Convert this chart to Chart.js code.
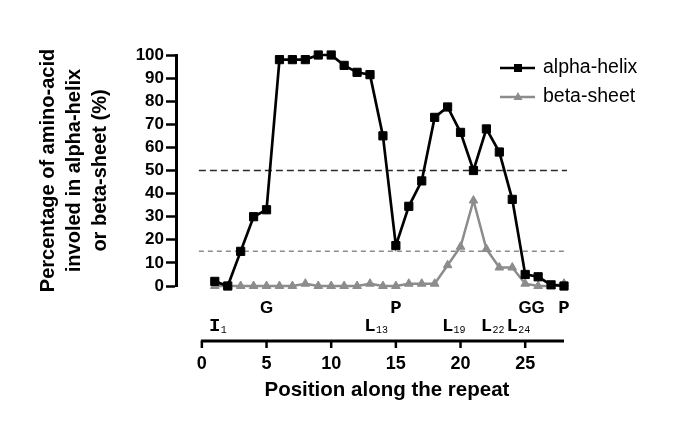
<!DOCTYPE html>
<html>
<head>
<meta charset="utf-8">
<script src="https://cdn.jsdelivr.net/npm/chart.js@4.4.1/dist/chart.umd.min.js"></script>
<style>
  html, body { margin: 0; padding: 0; background: #fff; }
</style>
</head>
<body>
<canvas id="lineChart" width="685" height="428"></canvas>
<script>
// data
var positions  = [1, 2, 3, 4, 5, 6, 7, 8, 9, 10, 11, 12, 13, 14, 15, 16, 17, 18, 19, 20, 21, 22, 23, 24, 25, 26, 27, 28];
var alphaHelix = [2, 0, 15, 30, 33, 98, 98, 98, 100, 100, 95.5, 92.5, 91.5, 65, 17.5, 34.5, 45.5, 73, 77.5, 66.5, 50, 68, 58, 37.5, 5, 4, 0.5, 0];
var betaSheet  = [0, 0, 0, 0, 0, 0, 0, 1, 0, 0, 0, 0, 1, 0, 0, 1, 1, 1, 9, 17, 37, 16, 8, 8, 1, 0, 0, 1];
var xTicks = [0, 5, 10, 15, 20, 25];
var yTicks = [0, 10, 20, 30, 40, 50, 60, 70, 80, 90, 100];
var cutoffs = [50, 15];
// residues marked under the curves
var topResidues = ['G', 'P', 'G', 'G', 'P'];
var topResiduePos = [5, 15, 25, 26, 28];
var bottomResidues = ['I', 'L', 'L', 'L', 'L'];
var bottomResiduePos = [1, 13, 19, 22, 24];

var SANS = "'Liberation Sans', Arial, sans-serif";
var MONO = "'Liberation Mono', 'Courier New', monospace";

function toPoints(vals) {
  return positions.map(function (p, i) { return { x: p, y: vals[i] }; });
}

var extras = {
  id: 'extras',
  beforeDatasetsDraw: function (chart) {
    var ctx = chart.ctx, xs = chart.scales.x, ys = chart.scales.y;
    var colors = ['#2b2b2b', '#8c8c8c'];
    var dashes = [[7, 4], [5, 4]];
    ctx.save();
    cutoffs.forEach(function (c, i) {
      var y = ys.getPixelForValue(c);
      ctx.strokeStyle = colors[i];
      ctx.lineWidth = 1.5;
      ctx.setLineDash(dashes[i]);
      ctx.beginPath();
      ctx.moveTo(xs.getPixelForValue(0) - 3, y);
      ctx.lineTo(xs.getPixelForValue(28) + 3, y);
      ctx.stroke();
    });
    ctx.restore();
  },
  afterDraw: function (chart) {
    var ctx = chart.ctx, xs = chart.scales.x;
    var axisY = 341;
    var x0 = xs.getPixelForValue(0), x28 = xs.getPixelForValue(28);
    ctx.save();
    // detached x axis
    ctx.strokeStyle = '#000';
    ctx.lineWidth = 3;
    ctx.beginPath();
    ctx.moveTo(x0 - 1, axisY);
    ctx.lineTo(x28, axisY);
    ctx.stroke();
    ctx.lineWidth = 2.5;
    xTicks.forEach(function (t) {
      var x = xs.getPixelForValue(t);
      ctx.beginPath();
      ctx.moveTo(x, axisY);
      ctx.lineTo(x, axisY + 7);
      ctx.stroke();
    });
    ctx.fillStyle = '#000';
    ctx.textAlign = 'center';
    ctx.textBaseline = 'middle';
    ctx.font = 'bold 20.5px ' + SANS;
    ctx.fillText('Position along the repeat', (x0 + x28) / 2 + 4, 390);

    // residue letters
    ctx.textBaseline = 'alphabetic';
    topResidues.forEach(function (r, i) {
      ctx.font = r === 'G' ? 'bold 17px ' + SANS : 'bold 19px ' + MONO;
      ctx.fillText(r, xs.getPixelForValue(topResiduePos[i]), 312.5);
    });
    bottomResidues.forEach(function (r, i) {
      var x = xs.getPixelForValue(bottomResiduePos[i]);
      ctx.font = 'bold 19px ' + MONO;
      ctx.textAlign = 'center';
      ctx.fillText(r, x, 331);
      ctx.font = '10px ' + MONO;
      ctx.textAlign = 'left';
      ctx.fillText(String(bottomResiduePos[i]), x + 6, 333);
    });

    // legend
    chart.data.datasets.forEach(function (ds, i) {
      var y = 68 + i * 29;
      ctx.strokeStyle = ds.borderColor;
      ctx.lineWidth = 2.5;
      ctx.beginPath();
      ctx.moveTo(500, y);
      ctx.lineTo(535, y);
      ctx.stroke();
      ctx.fillStyle = ds.backgroundColor;
      ctx.beginPath();
      if (ds.pointStyle === 'rect') {
        ctx.rect(514, y - 4, 8, 8);
      } else {
        ctx.moveTo(518, y - 5);
        ctx.lineTo(522.5, y + 3);
        ctx.lineTo(513.5, y + 3);
        ctx.closePath();
      }
      ctx.fill();
      ctx.fillStyle = '#000';
      ctx.font = '19.5px ' + SANS;
      ctx.textAlign = 'left';
      ctx.textBaseline = 'middle';
      ctx.fillText(ds.label, 543, y);
    });
    ctx.restore();
  }
};

var ctxL = document.getElementById('lineChart').getContext('2d');
var myLineChart = new Chart(ctxL, {
  type: 'line',
  data: {
    datasets: [{
      label: 'alpha-helix',
      data: toPoints(alphaHelix),
      borderColor: '#000',
      backgroundColor: '#000',
      borderWidth: 2.7,
      pointStyle: 'rect',
      pointRadius: 5.8,
      pointBorderWidth: 1,
      clip: false
    }, {
      label: 'beta-sheet',
      data: toPoints(betaSheet),
      borderColor: '#8c8c8c',
      backgroundColor: '#8c8c8c',
      borderWidth: 2.5,
      pointStyle: 'triangle',
      pointRadius: 5,
      pointBorderWidth: 1,
      clip: false
    }]
  },
  options: {
    responsive: false,
    animation: false,
    devicePixelRatio: 1,
    layout: { padding: { left: 0, right: 121, top: 55, bottom: 0 } },
    plugins: { legend: { display: false }, tooltip: { enabled: false } },
    scales: {
      x: {
        type: 'linear',
        min: -2,
        max: 28,
        afterBuildTicks: function (s) { s.ticks = xTicks.map(function (v) { return { value: v }; }); },
        afterFit: function (s) { s.height = 142; },
        grid: { display: false, drawTicks: false },
        border: { display: false },
        ticks: { color: '#000', padding: 67, autoSkip: false, font: { family: SANS, size: 18, weight: 'bold' } }
      },
      y: {
        min: 0,
        max: 100,
        afterBuildTicks: function (s) { s.ticks = yTicks.map(function (v) { return { value: v }; }); },
        afterFit: function (s) { s.width = 176; },
        grid: { drawOnChartArea: false, drawTicks: true, tickLength: 10, tickWidth: 2.5, tickColor: '#000' },
        border: { display: true, color: '#000', width: 3 },
        ticks: { color: '#000', padding: 2, autoSkip: false, font: { family: SANS, size: 17, weight: 'bold', lineHeight: 1 } },
        title: {
          display: true,
          text: ['Percentage of amino-acid', 'involed in alpha-helix', 'or beta-sheet (%)'],
          color: '#000',
          font: { family: SANS, size: 20, weight: 'bold', lineHeight: 1.3 },
          padding: { top: 35.5, bottom: 0 }
        }
      }
    }
  },
  plugins: [extras]
});
</script>
</body>
</html>
